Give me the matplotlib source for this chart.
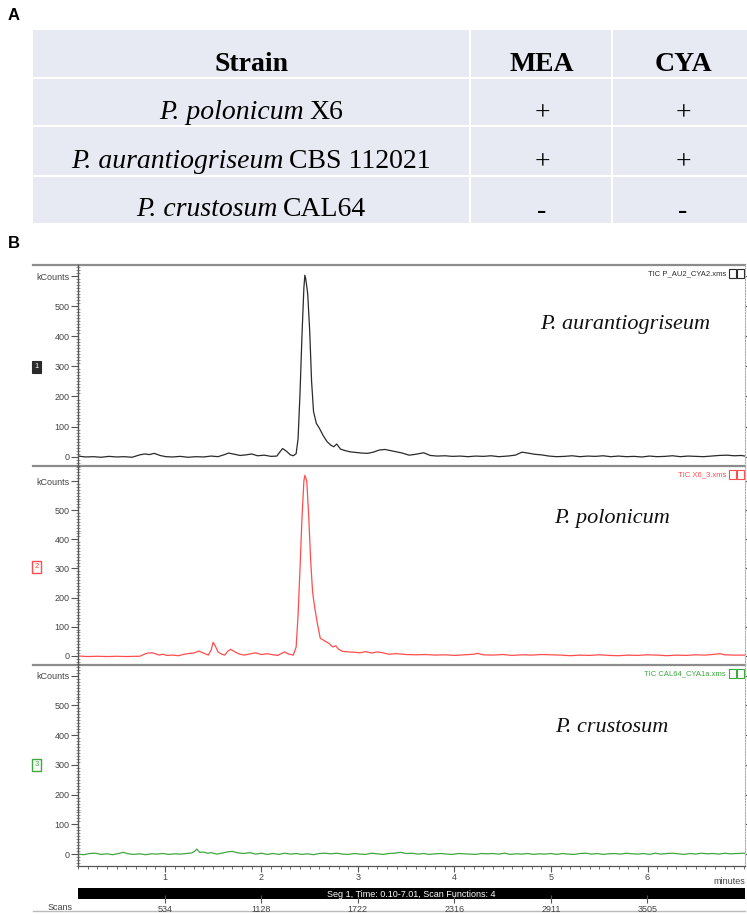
import matplotlib
matplotlib.use("Agg")
import matplotlib.pyplot as plt
from matplotlib.patches import Rectangle
from matplotlib.ticker import MultipleLocator
import matplotlib.transforms as mtransforms

W, H = 747, 914

# tabla de la parte A
columnas = ["Strain", "MEA", "CYA"]
cepas = [("P. polonicum", "X6"),
         ("P. aurantiogriseum", "CBS 112021"),
         ("P. crustosum", "CAL64")]
mea = ["+", "+", "-"]
cya = ["+", "+", "-"]

# cromatogramas (tiempo en min, kCounts)
traza_aurantiogriseum = [
    (0.10, 2), (0.18, -1), (0.26, 0), (0.34, -2), (0.42, 1), (0.50, -1), (0.58, 0), (0.66, -2),
    (0.74, 6), (0.79, 9), (0.84, 7), (0.89, 11), (0.95, 4), (1.01, 0), (1.08, -1), (1.16, 1),
    (1.24, -2), (1.32, 0), (1.40, -1), (1.48, 2), (1.55, 0), (1.61, 6), (1.66, 12), (1.72, 8),
    (1.78, 4), (1.84, 6), (1.90, 9), (1.96, 3), (2.03, 5), (2.10, 1), (2.16, 2), (2.19, 15),
    (2.22, 27), (2.26, 18), (2.30, 6), (2.33, 3), (2.36, 10), (2.38, 60), (2.40, 210), (2.42, 400),
    (2.44, 560), (2.45, 603), (2.46, 590), (2.48, 540), (2.50, 420), (2.52, 250), (2.54, 150),
    (2.57, 110), (2.60, 95), (2.64, 70), (2.68, 50), (2.72, 38), (2.75, 33), (2.78, 42), (2.82, 25),
    (2.87, 20), (2.92, 16), (2.98, 14), (3.04, 12), (3.10, 11), (3.16, 15), (3.22, 22), (3.28, 24),
    (3.34, 20), (3.40, 16), (3.46, 12), (3.53, 5), (3.60, 8), (3.68, 13), (3.75, 4), (3.82, 2),
    (3.90, 3), (3.98, 1), (4.06, 2), (4.14, 0), (4.22, 2), (4.30, 1), (4.38, 3), (4.46, 0),
    (4.55, 2), (4.63, 5), (4.70, 15), (4.76, 12), (4.83, 8), (4.90, 6), (4.98, 2), (5.06, 0),
    (5.14, 1), (5.22, 3), (5.30, 0), (5.38, 2), (5.46, 1), (5.54, 3), (5.62, 0), (5.70, 2),
    (5.78, 0), (5.86, 1), (5.94, -1), (6.02, 2), (6.10, 0), (6.18, 1), (6.26, 3), (6.34, 0),
    (6.42, 2), (6.50, 1), (6.58, 0), (6.66, 2), (6.74, 4), (6.82, 5), (6.90, 3), (6.97, 4), (7.01, 2),
]
traza_polonicum = [
    (0.10, -1), (0.20, -3), (0.30, -2), (0.40, -3), (0.50, -2), (0.60, -3), (0.70, -2), (0.74, -2),
    (0.78, 4), (0.82, 9), (0.87, 10), (0.91, 6), (0.94, 2), (0.98, 5), (1.02, 1), (1.08, 2),
    (1.14, 0), (1.20, 5), (1.26, 8), (1.31, 10), (1.35, 16), (1.40, 9), (1.45, 2), (1.48, 20),
    (1.50, 46), (1.52, 35), (1.55, 13), (1.59, 5), (1.62, 2), (1.65, 15), (1.68, 22), (1.72, 14),
    (1.77, 6), (1.82, 2), (1.88, 6), (1.94, 10), (2.00, 4), (2.06, 7), (2.12, 3), (2.17, 1),
    (2.21, 8), (2.24, 13), (2.28, 6), (2.33, 2), (2.36, 30), (2.38, 140), (2.40, 300), (2.42, 470),
    (2.44, 600), (2.45, 620), (2.47, 600), (2.49, 480), (2.51, 330), (2.53, 220), (2.55, 170),
    (2.58, 110), (2.61, 60), (2.65, 52), (2.70, 42), (2.74, 30), (2.77, 34), (2.80, 22), (2.84, 15),
    (2.90, 13), (2.96, 12), (3.02, 10), (3.08, 14), (3.14, 9), (3.20, 13), (3.26, 10), (3.32, 5),
    (3.40, 7), (3.50, 4), (3.60, 3), (3.70, 4), (3.80, 2), (3.90, 3), (4.00, 1), (4.10, 3),
    (4.20, 5), (4.24, 8), (4.30, 3), (4.40, 2), (4.50, 4), (4.60, 1), (4.70, 3), (4.80, 2),
    (4.90, 4), (5.00, 3), (5.10, 2), (5.20, 0), (5.30, 2), (5.40, 1), (5.50, 3), (5.60, 1),
    (5.70, 0), (5.80, 2), (5.90, 1), (6.00, 3), (6.10, 2), (6.20, 0), (6.30, 2), (6.40, 1),
    (6.50, 3), (6.60, 2), (6.70, 5), (6.75, 7), (6.80, 3), (6.90, 2), (7.01, 2),
]
traza_crustosum = [
    (0.10, 0), (0.16, -2), (0.22, 2), (0.28, 3), (0.34, -1), (0.40, 1), (0.46, -2), (0.52, 2),
    (0.57, 6), (0.62, 1), (0.68, -1), (0.74, 1), (0.80, -2), (0.86, 1), (0.92, 0), (0.98, 2),
    (1.04, -1), (1.10, 1), (1.16, 0), (1.22, 2), (1.28, 4), (1.31, 10), (1.33, 17), (1.36, 6),
    (1.40, 7), (1.44, 3), (1.48, 5), (1.54, 0), (1.60, 4), (1.66, 8), (1.70, 9), (1.76, 4),
    (1.82, 2), (1.88, 5), (1.94, 0), (2.00, 3), (2.06, -1), (2.12, 2), (2.18, -1), (2.24, 3),
    (2.30, 0), (2.36, 2), (2.42, -1), (2.48, 1), (2.54, -2), (2.60, 2), (2.66, 3), (2.72, 1),
    (2.78, 3), (2.84, 0), (2.90, -1), (2.96, 2), (3.02, 0), (3.08, -1), (3.14, 3), (3.20, 1),
    (3.26, -1), (3.32, 2), (3.38, 3), (3.44, 6), (3.50, 2), (3.56, 3), (3.62, 0), (3.68, 2),
    (3.74, -1), (3.80, 1), (3.86, 2), (3.92, 0), (3.98, -1), (4.04, 2), (4.10, 1), (4.16, 0),
    (4.22, -1), (4.28, 2), (4.34, 1), (4.40, 2), (4.46, 0), (4.52, 3), (4.58, -1), (4.64, 1),
    (4.70, 0), (4.76, 2), (4.82, -1), (4.88, 1), (4.94, 0), (5.00, 2), (5.06, -1), (5.12, 2),
    (5.18, 0), (5.24, -1), (5.30, 2), (5.36, 3), (5.42, 0), (5.48, 2), (5.54, -1), (5.60, 1),
    (5.66, 2), (5.72, 0), (5.78, 3), (5.84, 1), (5.90, 0), (5.96, 2), (6.02, -1), (6.08, 3),
    (6.14, 0), (6.20, 2), (6.26, 3), (6.32, 1), (6.38, -1), (6.44, 2), (6.50, 0), (6.56, 3),
    (6.62, 1), (6.68, 2), (6.74, 0), (6.80, 3), (6.86, 1), (6.92, 2), (7.01, 3),
]

especies = ["P. aurantiogriseum", "P. polonicum", "P. crustosum"]
archivos = ["TIC P_AU2_CYA2.xms", "TIC X6_3.xms", "TIC CAL64_CYA1a.xms"]
colores = ["#2a2a2a", "#ff4d4d", "#3fa83f"]
numeros = ["1", "2", "3"]
yticks = [0, 100, 200, 300, 400, 500, 600]
ytick_labels = ["0", "100", "200", "300", "400", "500", "kCounts"]
xticks = [1, 2, 3, 4, 5, 6]
scans = [534, 1128, 1722, 2316, 2911, 3505]
scans_por_min = 594.2
t_inicio, t_fin = 0.10, 7.01

SANS = "Liberation Sans"
SERIF = "Liberation Serif"
TAM_TABLA = 20


def caja(x0, y0, x1, y1):
    # pixeles de la imagen -> coordenadas de figura
    return [x0 / W, 1 - y1 / H, (x1 - x0) / W, (y1 - y0) / H]


fig = plt.figure(figsize=(W / 100, H / 100), dpi=100)
renderer = fig.canvas.get_renderer()

# eje de fondo en pixeles
bg = fig.add_axes([0, 0, 1, 1])
bg.set_xlim(0, W)
bg.set_ylim(H, 0)
bg.axis("off")

# ---- A: tabla ----
bg.text(8, 16, "A", fontsize=12, fontweight="bold", family=SANS, va="center")
bg.text(8, 244, "B", fontsize=12, fontweight="bold", family=SANS, va="center")

tabla_x0, tabla_x1 = 33, 747
filas_y = [30, 78, 126, 176, 223]
cols_x = [33, 470, 612, 747]
bg.add_patch(Rectangle((tabla_x0, filas_y[0]), tabla_x1 - tabla_x0, filas_y[-1] - filas_y[0],
                       facecolor="#e8eaf3", edgecolor="none"))
for y in filas_y[1:-1]:
    bg.plot([tabla_x0, tabla_x1], [y, y], color="white", lw=1.5)
for x in cols_x[1:-1]:
    bg.plot([x, x], [filas_y[0], filas_y[-1]], color="white", lw=1.5)

centros_x = [251, 542, 683]
for cx, nombre in zip(centros_x, columnas):
    bg.text(cx, (filas_y[0] + filas_y[1]) / 2 + 17, nombre, family=SERIF, fontsize=TAM_TABLA,
            fontweight="bold", ha="center", va="baseline")

for i, (gen, codigo) in enumerate(cepas):
    yc = (filas_y[i + 1] + filas_y[i + 2]) / 2
    yb = yc + 17
    t1 = bg.text(0, yb, gen, family=SERIF, style="italic", fontsize=TAM_TABLA,
                 ha="left", va="baseline")
    t2 = bg.text(0, yb, codigo, family=SERIF, fontsize=TAM_TABLA, ha="left", va="baseline")
    w1 = t1.get_window_extent(renderer).width
    w2 = t2.get_window_extent(renderer).width
    esp = 6
    x_ini = centros_x[0] - (w1 + esp + w2) / 2
    t1.set_x(x_ini)
    t2.set_x(x_ini + w1 + esp)
    bg.text(centros_x[1], yc + 12, mea[i], family=SERIF, fontsize=TAM_TABLA, ha="center", va="center")
    bg.text(centros_x[2], yc + 12, cya[i], family=SERIF, fontsize=TAM_TABLA, ha="center", va="center")

# ---- B: cromatogramas ----
paneles_y = [(265, 466), (466, 665), (665, 866)]
ylims = [(-31, 637), (-32, 652), (-40, 636)]
trazas = [traza_aurantiogriseum, traza_polonicum, traza_crustosum]
ax_x0, ax_x1 = 78, 745

for k in range(3):
    y0, y1 = paneles_y[k]
    ax = fig.add_axes(caja(ax_x0, y0, ax_x1, y1))
    ax.patch.set_alpha(0)
    t, v = zip(*trazas[k])
    ax.plot(t, v, color=colores[k], lw=0.9)
    ax.set_xlim(t_inicio, t_fin)
    ax.set_ylim(*ylims[k])

    for s in ["top", "bottom"]:
        ax.spines[s].set_visible(False)
    ax.spines["left"].set_color("#555555")
    ax.spines["left"].set_linewidth(1.0)
    ax.spines["right"].set_color("#aaaaaa")
    ax.spines["right"].set_linestyle((0, (1, 1.5)))
    ax.spines["right"].set_linewidth(0.8)

    ax.set_yticks(yticks)
    ax.set_yticklabels(ytick_labels, family=SANS, fontsize=6.5, color="#444444")
    ax.yaxis.set_minor_locator(MultipleLocator(10))
    ax.tick_params(axis="y", which="major", direction="out", length=5, width=0.8,
                   color="#555555", pad=1, right=True)
    ax.tick_params(axis="y", which="minor", direction="inout", length=3, width=0.5,
                   color="#666666", right=False)
    for tl in ax.yaxis.get_major_ticks():
        tl.tick2line.set_markersize(3)

    if k < 2:
        ax.set_xticks([])
    else:
        ax.spines["bottom"].set_visible(True)
        ax.spines["bottom"].set_color("#555555")
        ax.spines["bottom"].set_linewidth(0.9)
        ax.set_xticks(xticks)
        ax.set_xticklabels([str(x) for x in xticks], family=SANS, fontsize=6.5, color="#444444")
        ax.xaxis.set_minor_locator(MultipleLocator(0.1))
        ax.tick_params(axis="x", which="major", direction="out", length=4, width=0.8,
                       color="#555555", pad=1)
        ax.tick_params(axis="x", which="minor", direction="out", length=2, width=0.6,
                       color="#555555")

    # separador gris superior
    bg.plot([33, ax_x1], [y0, y0], color="#8c8c8c", lw=1.6)

    # nombre de archivo e iconos
    bg.text(726, y0 + 9, archivos[k], family=SANS, fontsize=5.5, color=colores[k],
            ha="right", va="center")
    for ix in [729, 737]:
        bg.add_patch(Rectangle((ix, y0 + 4), 7, 9, facecolor="none",
                               edgecolor=colores[k], lw=0.8))

    # especie
    trans = mtransforms.blended_transform_factory(ax.transAxes, ax.transData)
    pos_y = [440, 470, 425][k]
    pos_x = [0.82, 0.80, 0.80][k]
    ax.text(pos_x, pos_y, especies[k], transform=trans, family=SERIF, style="italic",
            fontsize=16, ha="center", va="center", color="#111111")

    # etiqueta numerada
    by = y0 + [102, 101, 100][k]
    if k == 0:
        bg.add_patch(Rectangle((32, by - 6), 9, 12, facecolor=colores[k], edgecolor=colores[k], lw=0.8))
        bg.text(36.5, by, numeros[k], family=SANS, fontsize=5.5, color="white", ha="center", va="center")
    else:
        bg.add_patch(Rectangle((32, by - 6), 9, 12, facecolor="white", edgecolor=colores[k], lw=1.0))
        bg.text(36.5, by, numeros[k], family=SANS, fontsize=5.5, color=colores[k], ha="center", va="center")

bg.text(745, 882, "minutes", family=SANS, fontsize=6.5, color="#444444", ha="right", va="center")

# barra de segmento y escala de scans
ax_s = fig.add_axes(caja(ax_x0, 888, ax_x1, 899))
ax_s.set_facecolor("black")
ax_s.set_xlim(t_inicio, t_fin)
ax_s.set_ylim(0, 1)
ax_s.set_yticks([])
for s in ax_s.spines.values():
    s.set_visible(False)
scan_t = [t_inicio + sc / scans_por_min for sc in scans]
ax_s.set_xticks(scan_t)
ax_s.set_xticklabels([str(sc) for sc in scans], family=SANS, fontsize=6.5, color="#444444")
ax_s.tick_params(axis="x", direction="inout", length=6, width=0.8, color="#555555", pad=1)
ax_s.text(0.5, 0.45, "Seg 1, Time: 0.10-7.01, Scan Functions: 4", transform=ax_s.transAxes,
          family=SANS, fontsize=6.5, color="white", ha="center", va="center")

bg.text(73, 908, "Scans", family=SANS, fontsize=6.5, color="#444444", ha="right", va="center")
bg.plot([33, ax_x1], [911, 911], color="#bbbbbb", lw=1.0)

fig.savefig("out.png", dpi=100)
